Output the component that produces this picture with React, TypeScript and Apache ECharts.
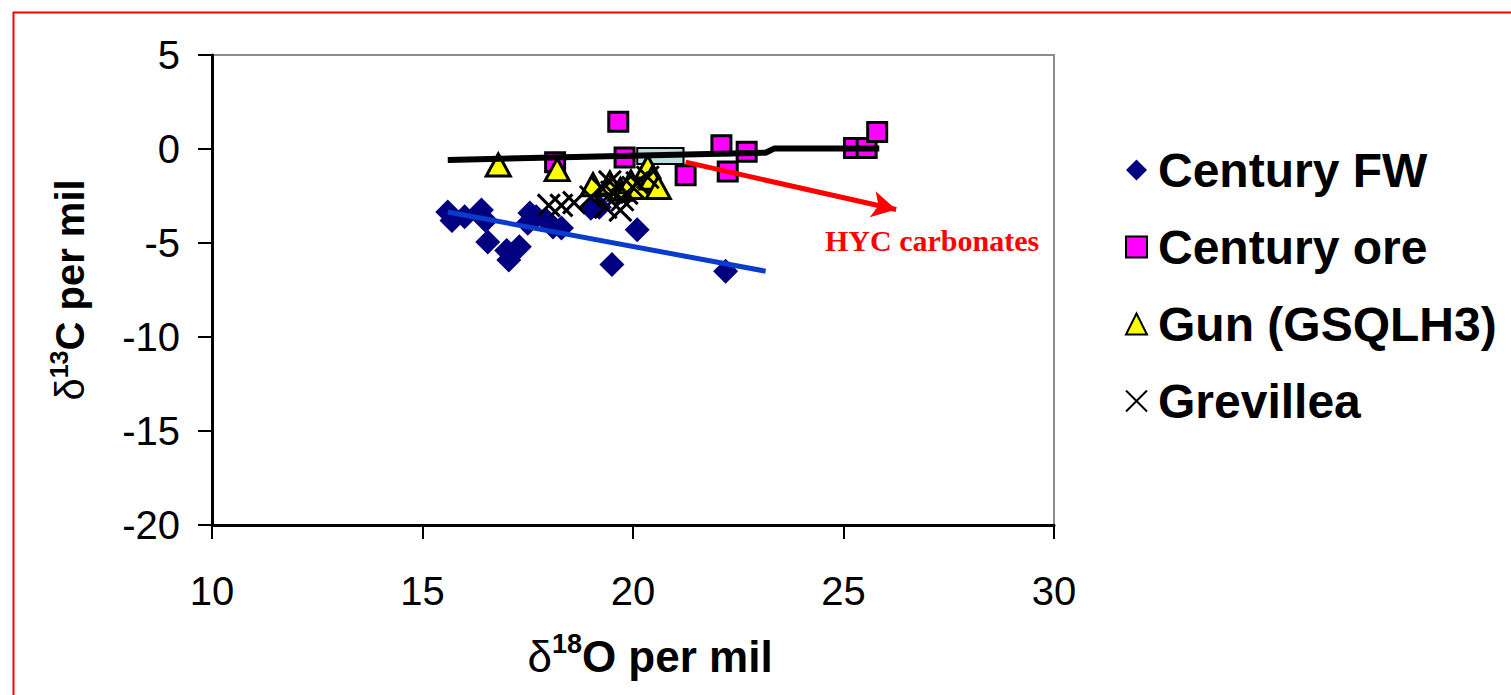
import React, { useEffect, useRef } from "react";
import * as echarts from "echarts";

const seriesNames = ["Century FW", "Century ore", "Gun (GSQLH3)", "Grevillea"];

const centuryFW: [number, number][] = [
  [15.6, -3.35], [15.7, -3.8], [16.0, -3.6], [16.4, -3.25], [16.5, -3.8],
  [16.55, -4.95], [17.0, -5.4], [17.05, -5.9], [17.3, -5.2], [17.55, -3.4],
  [17.7, -3.6], [17.5, -3.95], [17.95, -3.8], [18.1, -4.15], [18.3, -4.2],
  [19.0, -3.15], [19.2, -3.1], [19.5, -6.15], [20.1, -4.3], [22.2, -6.5],
];

const centuryOre: [number, number][] = [
  [18.15, -0.7], [19.65, 1.45], [19.8, -0.45], [21.25, -1.4], [22.1, 0.2],
  [22.25, -1.2], [22.7, -0.15], [25.25, 0.05], [25.55, 0.05], [25.8, 0.9],
];

const gun: [number, number][] = [
  [16.8, -0.85], [18.2, -1.1], [19.05, -1.9], [19.45, -1.8], [19.7, -2.15],
  [19.95, -1.75], [20.15, -2.05], [20.35, -0.95], [20.45, -1.55], [20.6, -2.05],
];

const grevillea: [number, number][] = [
  [18.0, -3.0], [18.3, -3.0], [18.6, -2.85], [19.0, -2.55], [19.25, -2.05],
  [19.45, -1.75], [19.5, -2.3], [19.7, -2.0], [19.75, -2.7], [19.85, -2.35],
  [20.0, -2.05], [20.1, -1.8], [20.35, -1.5], [19.7, -3.25], [19.35, -3.1],
];

const fwTrend: [number, number][] = [[15.6, -3.35], [23.15, -6.5]];
const oreTrend: [number, number][] = [[15.6, -0.58], [23.15, -0.2], [23.35, 0.02], [25.85, 0.02]];
const hycArrow: [number, number][] = [[21.25, -0.7], [26.25, -3.22]];
const hycBox: [number, number][] = [[20.1, 0.05], [21.2, -0.8]];

const xMin = 10, xMax = 30, xStep = 5;
const yMin = -20, yMax = 5, yStep = 5;

const FONT = "Liberation Sans, Arial, sans-serif";

export default function App() {
  const ref = useRef<HTMLDivElement>(null);
  useEffect(() => {
    if (!ref.current) return;
    const chart = echarts.init(ref.current, undefined, { renderer: "svg" });
    const crossPath = "path://M0,0L20,20M20,0L0,20";
    chart.setOption({
      animation: false,
      backgroundColor: "#ffffff",
      grid: {
        left: 212, top: 55, width: 842, height: 470,
        show: true, borderColor: "#8c8c8c", borderWidth: 2, backgroundColor: "#ffffff",
      },
      xAxis: {
        type: "value", min: xMin, max: xMax, interval: xStep,
        axisLine: { show: true, onZero: false, lineStyle: { color: "#000", width: 3 } },
        axisTick: { show: true, inside: false, length: 14, lineStyle: { color: "#000", width: 2 } },
        splitLine: { show: false },
        axisLabel: { color: "#000", fontSize: 40, fontFamily: FONT, margin: 46 },
        name: "{d|δ}{s|18}{n|O per mil}",
        nameLocation: "middle",
        nameGap: 105,
        nameTextStyle: {
          padding: [0, 0, 0, 34],
          rich: {
            d: { fontSize: 44, fontFamily: FONT, color: "#000", lineHeight: 48, verticalAlign: "bottom" },
            s: { fontSize: 27, fontWeight: "bold", fontFamily: FONT, color: "#000", lineHeight: 27, verticalAlign: "top" },
            n: { fontSize: 44, fontWeight: "bold", fontFamily: FONT, color: "#000", lineHeight: 48, verticalAlign: "bottom" },
          },
        },
      },
      yAxis: {
        type: "value", min: yMin, max: yMax, interval: yStep,
        axisLine: { show: true, onZero: false, lineStyle: { color: "#000", width: 3 } },
        axisTick: { show: true, inside: false, length: 14, lineStyle: { color: "#000", width: 2 } },
        splitLine: { show: false },
        axisLabel: { color: "#000", fontSize: 40, fontFamily: FONT, margin: 32 },
        name: "{d|δ}{s|13}{n|C per mil}",
        nameLocation: "middle",
        nameRotate: 90,
        nameGap: 122,
        nameTextStyle: {
          rich: {
            d: { fontSize: 40, fontFamily: FONT, color: "#000", lineHeight: 44, verticalAlign: "bottom" },
            s: { fontSize: 25, fontWeight: "bold", fontFamily: FONT, color: "#000", lineHeight: 25, verticalAlign: "top" },
            n: { fontSize: 40, fontWeight: "bold", fontFamily: FONT, color: "#000", lineHeight: 44, verticalAlign: "bottom" },
          },
        },
      },
      legend: {
        orient: "vertical",
        left: 1120, top: 141,
        itemWidth: 21, itemHeight: 21, itemGap: 29,
        data: seriesNames,
        selectedMode: false,
        textStyle: { fontSize: 48, fontWeight: "bold", fontFamily: FONT, color: "#000", lineHeight: 48, padding: [0, 0, 0, 6] },
      },
      graphic: [
        { type: "rect", left: 11, top: 10, shape: { x: 0, y: 0, width: 1600, height: 800 }, style: { fill: "none", stroke: "#ff0000", lineWidth: 2 }, z: 100, silent: true },
        { type: "text", left: 825, top: 225, style: { text: "HYC carbonates", fill: "#ff0000", font: "bold 30px 'Liberation Serif', 'Times New Roman', serif" }, z: 100 },
      ],
      series: [
        {
          name: seriesNames[0], type: "scatter", data: centuryFW, symbol: "diamond", symbolSize: 25,
          itemStyle: { color: "#000080", opacity: 1 }, z: 2,
        },
        {
          name: seriesNames[1], type: "scatter", data: centuryOre, symbol: "rect", symbolSize: 19,
          itemStyle: { color: "#ff00ff", borderColor: "#000", borderWidth: 3, opacity: 1 }, z: 2,
        },
        {
          name: seriesNames[2], type: "scatter", data: gun, symbol: "triangle", symbolSize: [24, 22],
          itemStyle: { color: "#ffff00", borderColor: "#000", borderWidth: 3, opacity: 1 }, z: 3,
        },
        {
          name: seriesNames[3], type: "scatter", data: grevillea, symbol: crossPath, symbolSize: 22,
          itemStyle: { color: "#000", borderColor: "#000", borderWidth: 3, opacity: 1 }, z: 3,
        },
        {
          name: "fwTrend", type: "line", data: fwTrend, symbol: "none", silent: true,
          lineStyle: { color: "#0a3ccb", width: 5 }, z: 5,
        },
        {
          name: "oreTrend", type: "line", data: oreTrend, symbol: "none", silent: true,
          lineStyle: { color: "#000", width: 6 }, z: 5,
        },
        {
          name: "hyc", type: "line", data: hycArrow, symbol: "none", silent: true,
          lineStyle: { opacity: 0, width: 0 }, z: 8,
          markArea: {
            silent: true,
            itemStyle: { color: "#bddfe2", borderColor: "#000", borderWidth: 2, opacity: 1 },
            label: { show: false },
            data: [[{ coord: hycBox[0] }, { coord: hycBox[1] }]],
          },
          markLine: {
            silent: true,
            symbol: ["none", "arrow"],
            symbolSize: [20, 24],
            label: { show: false },
            lineStyle: { color: "#ff0000", width: 5, type: "solid" },
            data: [[{ coord: hycArrow[0] }, { coord: hycArrow[1] }]],
          },
        },
      ],
    });
    return () => chart.dispose();
  }, []);
  return <div ref={ref} style={{ position: "fixed", left: 0, top: 0, width: 1511, height: 695, background: "#fff" }} />;
}
